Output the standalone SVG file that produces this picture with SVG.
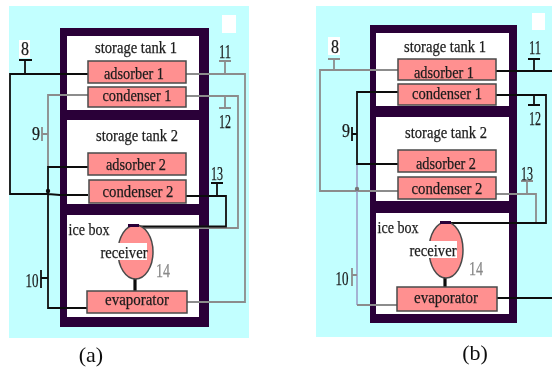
<svg xmlns="http://www.w3.org/2000/svg" width="552" height="372" viewBox="0 0 552 372">
<style>
.bg{fill:#c2ffff}
.frame{fill:#2a0038}
.room{fill:#fff}
.box{fill:#ff9090;stroke:#4a4a4a;stroke-width:1.5}
.recv{fill:#ff9090;stroke:#4a4a4a;stroke-width:1.5}
.k{fill:none;stroke:#111;stroke-width:1.8}
.g{fill:none;stroke:#8c8c8c;stroke-width:1.8}
.b{fill:none;stroke:#9a9ac4;stroke-width:1.5}
.lk{fill:none;stroke:#111;stroke-width:3.2}
text{font-family:"Liberation Serif","Times New Roman",serif;fill:#1c1c1c;text-anchor:middle;stroke:#1c1c1c;stroke-width:.25}
.t{font-size:17.500px}
.n{font-size:18px}
.gn{font-size:18px;fill:#888;stroke:#888}
.cap{font-size:22px;fill:#111;stroke:none}
.wh{fill:#fff}
</style>
<defs><filter id="soft" x="0" y="0" width="100%" height="100%"><feGaussianBlur stdDeviation="0.45"/></filter></defs>
<g filter="url(#soft)">
<g id="panel-a">
<rect class="bg" x="9" y="6" width="240" height="332"/>
<rect class="wh" x="222" y="15" width="14" height="18"/>
<rect class="wh" x="19" y="40" width="11" height="18"/>
</g>
<g id="panel-b">
<rect class="bg" x="316" y="6" width="236" height="331"/>
<rect class="wh" x="532" y="13" width="13" height="17"/>
<rect class="wh" x="328" y="37" width="12" height="18"/>
</g>
<g id="frames">
<rect class="frame" x="60" y="28" width="149" height="299"/>
<rect class="room" x="67" y="36" width="132" height="74"/>
<rect class="room" x="67" y="120" width="132" height="84"/>
<rect class="room" x="67" y="215" width="132" height="102"/>
<rect class="frame" x="370" y="25" width="147" height="298"/>
<rect class="room" x="376" y="33" width="133" height="73"/>
<rect class="room" x="376" y="117" width="133" height="84"/>
<rect class="room" x="376" y="213" width="133" height="101"/>
</g>
<g id="connectors">
<path class="g" d="M88 95H48V167M186 74H245V302H187M186 96H238V228H140M48 134H42M42 127V141"/>
<path class="k" d="M88 74H10V194H48L60 195H88M88 167H48V308H87M186 196H226V226.500H130M25 74V61M19 60H32M48 278H41M41 270V288"/>
<path class="g" d="M225 74V61M219 61H231M225 96V108M219 108H231"/>
<path class="k" d="M217 196V184M211 183H223"/>
<circle cx="48" cy="191" r="2.200" fill="#111"/>
<path class="lk" d="M135 278V291"/>
<path class="g" d="M398 70H320V191H398M334 70V59M328 59H340M496 194H536V223M527 194V181M521 181H533"/>
<path class="b" d="M357 164V305"/>
<path class="g" d="M357 305H397M357 275H352M352 268V286"/>
<path class="k" d="M398 92H357V164H398M496 71H552M534 71V59M528 59H540M496 95H546V223H445M534 95V105M528 105H540M497 298H552"/>
<path class="k" d="M352 134H357M352 127V141"/>
<circle cx="357" cy="189" r="2.200" fill="#777"/>
<path class="lk" d="M445 278V287"/>
</g>
<g id="tank1-a"><text class="t" x="136" y="53" textLength="82" lengthAdjust="spacingAndGlyphs">storage tank 1</text></g>
<g id="adsorber1-a"><rect class="box" x="88" y="61" width="98" height="22"/><text class="t" x="134" y="79" textLength="60" lengthAdjust="spacingAndGlyphs">adsorber 1</text></g>
<g id="condenser1-a"><rect class="box" x="88" y="87" width="98" height="20"/><text class="t" x="137" y="101" textLength="69" lengthAdjust="spacingAndGlyphs">condenser 1</text></g>
<g id="tank2-a"><text class="t" x="137" y="141" textLength="82" lengthAdjust="spacingAndGlyphs">storage tank 2</text></g>
<g id="adsorber2-a"><rect class="box" x="88" y="153" width="98" height="22"/><text class="t" x="136" y="170" textLength="60" lengthAdjust="spacingAndGlyphs">adsorber 2</text></g>
<g id="condenser2-a"><rect class="box" x="89" y="180" width="97" height="23"/><text class="t" x="138" y="197" textLength="71" lengthAdjust="spacingAndGlyphs">condenser 2</text></g>
<g id="icebox-a"><text class="t" x="89" y="235" textLength="41" lengthAdjust="spacingAndGlyphs">ice box</text></g>
<g id="receiver-a"><ellipse class="recv" cx="135.500" cy="252" rx="17.500" ry="27"/><rect class="wh" x="100" y="243" width="47" height="17"/><rect x="128" y="224" width="11" height="3" fill="#2a0038"/><text class="t" x="124" y="258" textLength="47" lengthAdjust="spacingAndGlyphs">receiver</text></g>
<g id="evaporator-a"><rect class="box" x="87" y="291" width="100" height="22"/><text class="t" x="137" y="305" textLength="64" lengthAdjust="spacingAndGlyphs">evaporator</text></g>
<g id="labels-a">
<text class="n" x="25" y="55" textLength="8" lengthAdjust="spacingAndGlyphs">8</text><text class="n" x="36" y="140" textLength="8" lengthAdjust="spacingAndGlyphs">9</text><text class="n" x="32" y="287" textLength="13" lengthAdjust="spacingAndGlyphs">10</text>
<text class="n" x="225" y="58" textLength="12" lengthAdjust="spacingAndGlyphs">11</text><text class="n" x="225" y="128" textLength="12" lengthAdjust="spacingAndGlyphs">12</text><text class="n" x="217" y="180" textLength="12" lengthAdjust="spacingAndGlyphs">13</text>
<text class="gn" x="163" y="277" textLength="14" lengthAdjust="spacingAndGlyphs">14</text><text class="cap" x="91" y="362">(a)</text>
</g>
<g id="tank1-b"><text class="t" x="445" y="52" textLength="82" lengthAdjust="spacingAndGlyphs">storage tank 1</text></g>
<g id="adsorber1-b"><rect class="box" x="398" y="59" width="98" height="21"/><text class="t" x="444" y="78" textLength="60" lengthAdjust="spacingAndGlyphs">adsorber 1</text></g>
<g id="condenser1-b"><rect class="box" x="398" y="84" width="98" height="21"/><text class="t" x="447" y="99" textLength="70" lengthAdjust="spacingAndGlyphs">condenser 1</text></g>
<g id="tank2-b"><text class="t" x="446" y="138" textLength="82" lengthAdjust="spacingAndGlyphs">storage tank 2</text></g>
<g id="adsorber2-b"><rect class="box" x="398" y="150" width="98" height="22"/><text class="t" x="446" y="169" textLength="60" lengthAdjust="spacingAndGlyphs">adsorber 2</text></g>
<g id="condenser2-b"><rect class="box" x="398" y="177" width="98" height="22"/><text class="t" x="447" y="194" textLength="71" lengthAdjust="spacingAndGlyphs">condenser 2</text></g>
<g id="icebox-b"><text class="t" x="398" y="233" textLength="41" lengthAdjust="spacingAndGlyphs">ice box</text></g>
<g id="receiver-b"><ellipse class="recv" cx="446" cy="250" rx="17" ry="28"/><rect class="wh" x="410" y="241" width="47" height="17"/><rect x="440" y="221" width="11" height="3" fill="#2a0038"/><text class="t" x="433" y="256" textLength="47" lengthAdjust="spacingAndGlyphs">receiver</text></g>
<g id="evaporator-b"><rect class="box" x="397" y="287" width="100" height="24"/><text class="t" x="446" y="303" textLength="64" lengthAdjust="spacingAndGlyphs">evaporator</text></g>
<g id="labels-b">
<text class="n" x="335" y="53" textLength="8" lengthAdjust="spacingAndGlyphs">8</text><text class="n" x="346" y="137" textLength="8" lengthAdjust="spacingAndGlyphs">9</text><text class="n" x="342" y="285" textLength="13" lengthAdjust="spacingAndGlyphs">10</text>
<text class="n" x="535" y="54" textLength="12" lengthAdjust="spacingAndGlyphs">11</text><text class="n" x="535" y="125" textLength="12" lengthAdjust="spacingAndGlyphs">12</text><text class="n" x="527" y="180" textLength="12" lengthAdjust="spacingAndGlyphs">13</text>
<text class="gn" x="476" y="275" textLength="14" lengthAdjust="spacingAndGlyphs">14</text><text class="cap" x="475" y="360">(b)</text>
</g>
</g>
</svg>
